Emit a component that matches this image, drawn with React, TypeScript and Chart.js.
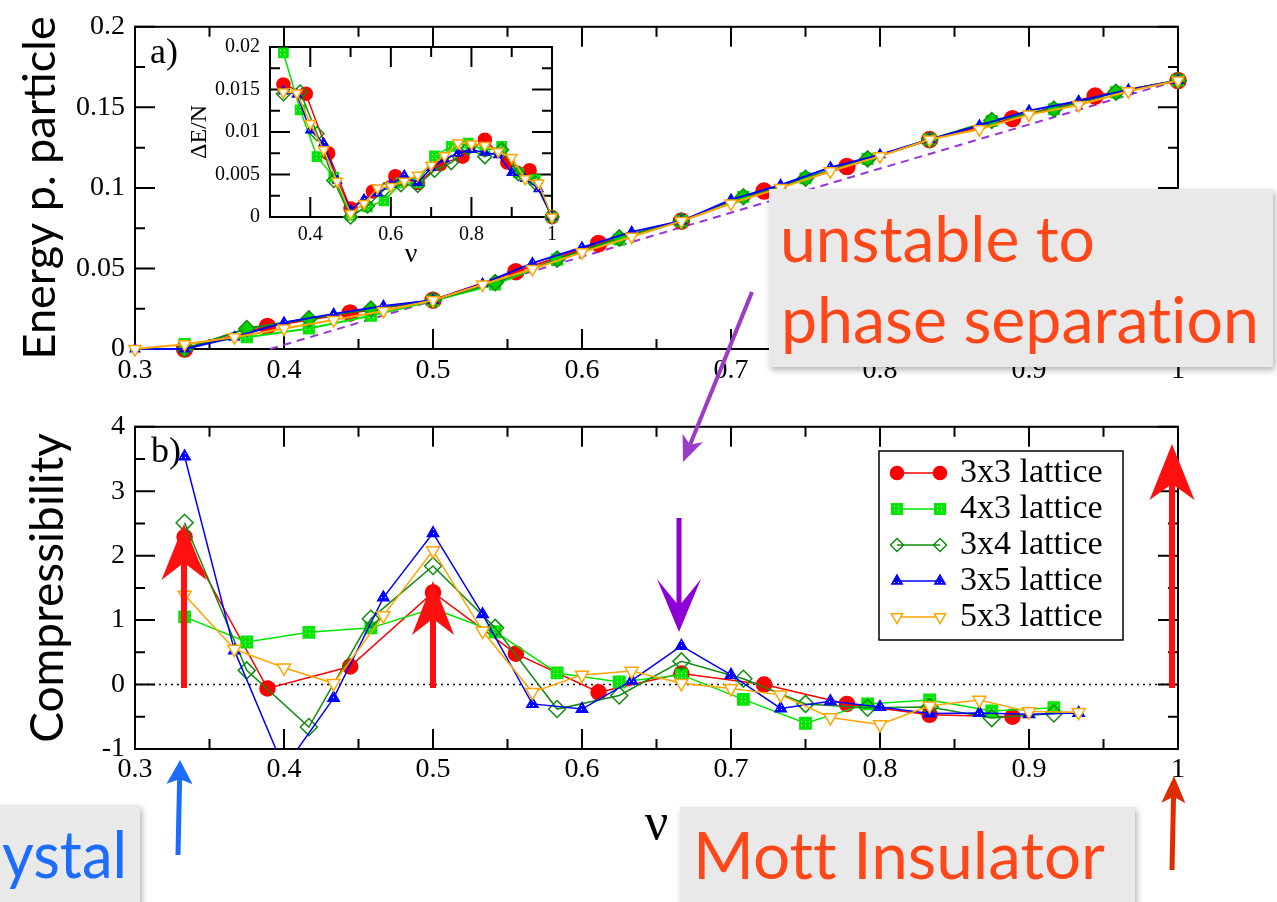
import React, { useEffect, useRef } from 'react';
import { Chart, registerables } from 'chart.js';

Chart.register(...registerables);

// ---------- data ----------
// filling fractions (x values) per lattice
const NU_3x3 = [0.3333, 0.3889, 0.4444, 0.5, 0.5556, 0.6111, 0.6667, 0.7222, 0.7778, 0.8333, 0.8889, 0.9444, 1.0];
const NU_12 = [0.3333, 0.375, 0.4167, 0.4583, 0.5, 0.5417, 0.5833, 0.625, 0.6667, 0.7083, 0.75, 0.7917, 0.8333, 0.875, 0.9167, 0.9583, 1.0];
const NU_15 = [0.3, 0.3333, 0.3667, 0.4, 0.4333, 0.4667, 0.5, 0.5333, 0.5667, 0.6, 0.6333, 0.6667, 0.7, 0.7333, 0.7667, 0.8, 0.8333, 0.8667, 0.9, 0.9333, 0.9667, 1.0];
const NU_15_INSET = [0.3333, 0.3667, 0.4, 0.4333, 0.4667, 0.5, 0.5333, 0.5667, 0.6, 0.6333, 0.6667, 0.7, 0.7333, 0.7667, 0.8, 0.8333, 0.8667, 0.9, 0.9333, 0.9667, 1.0];
const NU_K_3x3 = [0.3333, 0.3889, 0.4444, 0.5, 0.5556, 0.6111, 0.6667, 0.7222, 0.7778, 0.8333, 0.8889];
const NU_K_12 = [0.3333, 0.375, 0.4167, 0.4583, 0.5, 0.5417, 0.5833, 0.625, 0.6667, 0.7083, 0.75, 0.7917, 0.8333, 0.875, 0.9167];
const NU_K_15 = [0.3333, 0.3667, 0.4, 0.4333, 0.4667, 0.5, 0.5333, 0.5667, 0.6, 0.6333, 0.6667, 0.7, 0.7333, 0.7667, 0.8, 0.8333, 0.8667, 0.9, 0.9333];

// a) energy per particle
const E_3x3 = [0, 0.014, 0.0224, 0.0303, 0.048, 0.0655, 0.0794, 0.098, 0.1133, 0.13, 0.143, 0.157, 0.1667];
const E_4x3 = [0.003, 0.0073, 0.0127, 0.0206, 0.03, 0.04, 0.0555, 0.068, 0.0794, 0.0945, 0.106, 0.118, 0.13, 0.1415, 0.1488, 0.1594, 0.1667];
const E_3x4 = [0, 0.0127, 0.0188, 0.0248, 0.0303, 0.0412, 0.0558, 0.069, 0.0794, 0.0945, 0.106, 0.118, 0.1297, 0.1418, 0.149, 0.1594, 0.1667];
const E_3x5 = [0, 0, 0.0073, 0.0164, 0.0218, 0.0267, 0.0303, 0.0405, 0.0533, 0.063, 0.0727, 0.0794, 0.0927, 0.1018, 0.1127, 0.1206, 0.13, 0.1388, 0.1479, 0.154, 0.161, 0.1667];
const E_5x3 = [0, 0.003, 0.0073, 0.0127, 0.018, 0.0236, 0.0303, 0.04, 0.0497, 0.06, 0.0697, 0.0794, 0.0903, 0.1, 0.1103, 0.1197, 0.13, 0.1364, 0.1455, 0.1515, 0.16, 0.1667];
// Maxwell construction line (dashed)
const MAXWELL_X = [0.3906, 1.0];
const MAXWELL_Y = [0, 0.1667];

// inset: Delta E / N
const D_3x3 = [0.0156, 0.0145, 0.0075, 0.001, 0.003, 0.0048, 0.004, 0.0062, 0.0071, 0.0091, 0.0064, 0.0055, 0];
const D_4x3 = [0.0193, 0.0126, 0.0071, 0.0047, 0.0002, 0.0012, 0.0019, 0.004, 0.004, 0.0072, 0.0083, 0.0087, 0.0078, 0.0083, 0.0052, 0.0044, 0];
const D_3x4 = [0.0145, 0.0147, 0.0098, 0.0043, 0, 0.0013, 0.0032, 0.0038, 0.0037, 0.0055, 0.0064, 0.0081, 0.0071, 0.0079, 0.0051, 0.004, 0];
const D_3x5 = [0.0148, 0.0144, 0.0102, 0.0087, 0.0043, 0.0008, 0.0021, 0.0028, 0.0038, 0.0049, 0.004, 0.0058, 0.0068, 0.0075, 0.0079, 0.0076, 0.0073, 0.0052, 0.0045, 0.0033, 0];
const D_5x3 = [0.0147, 0.0146, 0.011, 0.0079, 0.0042, 0.0004, 0.0016, 0.0034, 0.0036, 0.0042, 0.0049, 0.0061, 0.0072, 0.0087, 0.0086, 0.0084, 0.0077, 0.007, 0.0045, 0.004, 0];

// b) compressibility
const K_3x3 = [2.29, -0.06, 0.28, 1.43, 0.48, -0.12, 0.17, 0.0, -0.3, -0.47, -0.5];
const K_4x3 = [1.05, 0.66, 0.81, 0.88, 1.18, 0.82, 0.18, 0.04, 0.15, -0.23, -0.6, -0.3, -0.24, -0.41, -0.36];
const K_3x4 = [2.51, 0.22, -0.66, 1.02, 1.84, 0.88, -0.38, -0.17, 0.36, 0.09, -0.3, -0.36, -0.35, -0.52, -0.45];
const K_3x5 = [3.54, 0.53, -1.3, -0.21, 1.35, 2.35, 1.09, -0.3, -0.38, 0.06, 0.6, 0.15, -0.37, -0.26, -0.35, -0.45, -0.44, -0.46, -0.44];
const K_5x3 = [1.39, 0.55, 0.26, 0.02, 1.07, 2.08, 0.83, -0.12, 0.15, 0.21, 0.02, -0.06, -0.16, -0.51, -0.62, -0.33, -0.24, -0.42, -0.43];
const ZERO_X = [0.3, 1.0];
const ZERO_Y = [0, 0];

const SERIES_LABELS = ['3x3 lattice', '4x3 lattice', '3x4 lattice', '3x5 lattice', '5x3 lattice'];

// ---------- styles ----------
const SERIF = "'Liberation Serif', 'DejaVu Serif', serif";
const SANS = "Lato, 'Open Sans', sans-serif";
const STYLES = [
  { color: '#ff0000', shape: 'circle', rot: 0, fill: 'solid', order: 5 },
  { color: '#00e600', shape: 'rect', rot: 0, fill: 'dots', order: 4 },
  { color: '#118c11', shape: 'rectRot', rot: 0, fill: 'none', order: 3 },
  { color: '#0000ff', shape: 'triangle', rot: 0, fill: 'dots', order: 2 },
  { color: '#ffa500', shape: 'triangle', rot: 180, fill: 'white', order: 1 },
];

// tick mark layout per panel (major / minor spacing, lengths in px)
const FRAME_TOP = { lw: 2, majorLen: 20, minorLen: 10, xMajor: 0.1, xMinor: 0.05, yMajor: 0.05, yMinor: 0.025 };
const FRAME_BOT = { lw: 2, majorLen: 20, minorLen: 10, xMajor: 0.1, xMinor: 0.05, yMajor: 1, yMinor: 0.5 };
const FRAME_INS = { lw: 2, majorLen: 20, minorLen: 10, xMajor: 0.2, xMinor: 0.1, yMajor: 0.005, yMinor: 0.0025 };

const fmt = (v: number) => String(Math.round(v * 10000) / 10000);

function drawMarker(ctx: any, shape: string, x: number, y: number, r: number, rot: number, fill: any, stroke: string, bw: number) {
  ctx.save();
  ctx.translate(x, y);
  ctx.rotate((rot * Math.PI) / 180);
  ctx.beginPath();
  if (shape === 'circle') ctx.arc(0, 0, r, 0, Math.PI * 2);
  else if (shape === 'rect') {
    const s = r * Math.SQRT1_2;
    ctx.rect(-s, -s, 2 * s, 2 * s);
  } else if (shape === 'rectRot') {
    ctx.moveTo(0, -r); ctx.lineTo(r, 0); ctx.lineTo(0, r); ctx.lineTo(-r, 0); ctx.closePath();
  } else {
    for (let k = 0; k < 3; k++) {
      const a = -Math.PI / 2 + (k * 2 * Math.PI) / 3;
      if (k === 0) ctx.moveTo(r * Math.cos(a), r * Math.sin(a));
      else ctx.lineTo(r * Math.cos(a), r * Math.sin(a));
    }
    ctx.closePath();
  }
  if (fill) { ctx.fillStyle = fill; ctx.fill(); }
  ctx.lineWidth = bw; ctx.strokeStyle = stroke; ctx.stroke();
  ctx.restore();
}

function gridValues(min: number, max: number, step: number) {
  const n = Math.round((max - min) / step);
  const out: number[] = [];
  for (let i = 0; i <= n; i++) out.push(min + i * step);
  return out;
}
const onMajor = (v: number, m: number) => Math.abs(v / m - Math.round(v / m)) < 1e-6;

// frame + inward ticks on all four sides, optional panel tag and background
function makeFramePlugin(f: any, extra: any) {
  return {
    id: 'frame',
    beforeDraw(chart: any) {
      if (!extra.bg) return;
      const { ctx, chartArea: ca } = chart;
      ctx.save();
      ctx.fillStyle = extra.bg;
      ctx.fillRect(ca.left, ca.top, ca.right - ca.left, ca.bottom - ca.top);
      ctx.restore();
    },
    beforeDatasetsDraw(chart: any) {
      const { ctx, chartArea: ca } = chart;
      const xs = chart.scales.x, ys = chart.scales.y;
      ctx.save();
      ctx.strokeStyle = '#000000';
      ctx.lineWidth = f.lw;
      ctx.setLineDash([]);
      ctx.beginPath();
      gridValues(xs.min, xs.max, f.xMinor).forEach((v) => {
        const len = onMajor(v, f.xMajor) ? f.majorLen : f.minorLen;
        const px = xs.getPixelForValue(v);
        ctx.moveTo(px, ca.bottom); ctx.lineTo(px, ca.bottom - len);
        ctx.moveTo(px, ca.top); ctx.lineTo(px, ca.top + len);
      });
      gridValues(ys.min, ys.max, f.yMinor).forEach((v) => {
        const len = onMajor(v, f.yMajor) ? f.majorLen : f.minorLen;
        const py = ys.getPixelForValue(v);
        ctx.moveTo(ca.left, py); ctx.lineTo(ca.left + len, py);
        ctx.moveTo(ca.right, py); ctx.lineTo(ca.right - len, py);
      });
      ctx.stroke();
      ctx.strokeRect(ca.left, ca.top, ca.right - ca.left, ca.bottom - ca.top);
      if (extra.tag) {
        ctx.fillStyle = '#000';
        ctx.font = extra.tagFont;
        ctx.textBaseline = 'alphabetic';
        ctx.textAlign = 'left';
        ctx.fillText(extra.tag, ca.left + extra.tagDx, ca.top + extra.tagDy);
      }
      ctx.restore();
    },
  };
}

function makeLegendPlugin(o: any) {
  return {
    id: 'boxLegend',
    afterDatasetsDraw(chart: any) {
      const ctx = chart.ctx;
      ctx.save();
      ctx.fillStyle = '#fff';
      ctx.fillRect(o.x, o.y, o.w, o.h);
      ctx.strokeStyle = '#000';
      ctx.lineWidth = 1.5;
      ctx.strokeRect(o.x, o.y, o.w, o.h);
      const items = chart.data.datasets.filter((d: any) => d.label);
      items.forEach((d: any, i: number) => {
        const cy = o.y + o.firstRow + i * o.rowGap;
        ctx.strokeStyle = d.borderColor;
        ctx.lineWidth = d.borderWidth;
        ctx.beginPath(); ctx.moveTo(o.lineX0, cy); ctx.lineTo(o.lineX1, cy); ctx.stroke();
        const bg = d.pointBackgroundColor === 'rgba(0,0,0,0)' ? null : d.pointBackgroundColor;
        [o.lineX0, o.lineX1].forEach((mx) => {
          drawMarker(ctx, d.pointStyle, mx, cy, o.radii[i], d.pointRotation, bg, d.pointBorderColor, d.pointBorderWidth);
        });
        ctx.fillStyle = '#000';
        ctx.font = o.font;
        ctx.textBaseline = 'middle';
        ctx.textAlign = 'left';
        ctx.fillText(d.label, o.textX, cy);
      });
      ctx.restore();
    },
  };
}

function makePatterns(ctx: any) {
  return STYLES.map((s) => {
    const c = document.createElement('canvas');
    c.width = 4; c.height = 4;
    const g = c.getContext('2d') as any;
    g.fillStyle = s.color; g.fillRect(0, 0, 4, 4);
    g.fillStyle = '#ffffff'; g.fillRect(1, 1, 1, 1);
    return ctx.createPattern(c, 'repeat');
  });
}

function series(i: number, xs: number[], ys: number[], radius: number, lw: number, pats: any[], clip: any, fillOverride?: any) {
  const s = STYLES[i];
  let bg: any = s.color;
  if (s.fill === 'dots') bg = pats[i];
  else if (s.fill === 'none') bg = 'rgba(0,0,0,0)';
  else if (s.fill === 'white') bg = '#ffffff';
  if (fillOverride !== undefined) bg = fillOverride;
  return {
    label: SERIES_LABELS[i],
    data: xs.map((x, k) => ({ x, y: ys[k] })),
    borderColor: s.color,
    backgroundColor: s.color,
    borderWidth: lw,
    pointStyle: s.shape,
    pointRotation: s.rot,
    pointRadius: radius,
    pointBackgroundColor: bg,
    pointBorderColor: s.color,
    pointBorderWidth: 1.5,
    order: s.order,
    tension: 0,
    clip,
  };
}

function axisX(min: number, max: number, step: number, size: number, pad: number, height: number, extra: any = {}) {
  return {
    type: 'linear', min, max,
    grid: { display: false, drawTicks: false },
    border: { display: false },
    ticks: {
      stepSize: step, autoSkip: false, maxRotation: 0, padding: pad, color: '#000',
      includeBounds: false,
      font: { family: SERIF, size },
      callback: (v: number) => fmt(v),
    },
    afterFit: (s: any) => { s.height = height; },
    ...extra,
  };
}

function axisY(min: number, max: number, step: number, size: number, pad: number, width: number, extra: any = {}) {
  return {
    type: 'linear', min, max,
    grid: { display: false, drawTicks: false },
    border: { display: false },
    ticks: {
      stepSize: step, autoSkip: false, padding: pad, color: '#000',
      font: { family: SERIF, size },
      callback: (v: number) => fmt(v),
    },
    afterFit: (s: any) => { s.width = width; },
    ...extra,
  };
}

const COMMON = {
  responsive: false,
  animation: false,
  events: [],
  plugins: { legend: { display: false }, tooltip: { enabled: false } },
};

function arrowPoints(tail: number[], tip: number[], sw: number, hl: number, hw: number, notch: number) {
  const dx = tip[0] - tail[0], dy = tip[1] - tail[1];
  const L = Math.hypot(dx, dy);
  const ux = dx / L, uy = dy / L;
  const nx = -uy, ny = ux;
  const B = [tip[0] - ux * hl, tip[1] - uy * hl];
  const N = [tip[0] - ux * (hl - notch), tip[1] - uy * (hl - notch)];
  const pts = [
    [tail[0] + nx * sw / 2, tail[1] + ny * sw / 2],
    [N[0] + nx * sw / 2, N[1] + ny * sw / 2],
    [B[0] + nx * hw / 2, B[1] + ny * hw / 2],
    tip,
    [B[0] - nx * hw / 2, B[1] - ny * hw / 2],
    [N[0] - nx * sw / 2, N[1] - ny * sw / 2],
    [tail[0] - nx * sw / 2, tail[1] - ny * sw / 2],
  ];
  return pts.map((p) => p[0].toFixed(1) + ',' + p[1].toFixed(1)).join(' ');
}

const ARROWS = [
  { tail: [184, 688], tip: [184, 524], sw: 6, hl: 56, hw: 45, notch: 15, color: '#ff1010' },
  { tail: [433, 688], tip: [433, 581], sw: 6, hl: 54, hw: 42, notch: 14, color: '#ff1010' },
  { tail: [1172, 688], tip: [1172, 444], sw: 6, hl: 56, hw: 45, notch: 14, color: '#ff1010' },
  { tail: [679, 518], tip: [679, 632], sw: 5, hl: 53, hw: 44, notch: 24, color: '#8c00d7' },
  { tail: [752, 292], tip: [683, 462], sw: 4, hl: 26, hw: 22, notch: 6, color: '#9a3cc8' },
  { tail: [178, 855], tip: [180, 760], sw: 5, hl: 24, hw: 26, notch: 4, color: '#1b6cff' },
  { tail: [1172, 870], tip: [1174, 776], sw: 5, hl: 27, hw: 24, notch: 5, color: '#e02a00' },
];

export default function App() {
  const topRef = useRef<HTMLCanvasElement>(null);
  const botRef = useRef<HTMLCanvasElement>(null);
  const insRef = useRef<HTMLCanvasElement>(null);

  useEffect(() => {
    const charts: any[] = [];
    const pTop = makePatterns(topRef.current!.getContext('2d'));
    const pBot = makePatterns(botRef.current!.getContext('2d'));
    const pIns = makePatterns(insRef.current!.getContext('2d'));

    // ---- top panel a)
    const rTop = [8, 7.5, 8, 5.5, 7];
    charts.push(new Chart(topRef.current as any, {
      type: 'line',
      data: {
        datasets: [
          series(0, NU_3x3, E_3x3, rTop[0], 2, pTop, false),
          series(1, NU_12, E_4x3, rTop[1], 2, pTop, false),
          series(2, NU_12, E_3x4, rTop[2], 2, pTop, false, '#00d000'),
          series(3, NU_15, E_3x5, rTop[3], 2, pTop, false),
          series(4, NU_15, E_5x3, rTop[4], 2, pTop, false),
          {
            label: '', data: MAXWELL_X.map((x, k) => ({ x, y: MAXWELL_Y[k] })),
            borderColor: '#9933dd', borderWidth: 2, borderDash: [8, 6], pointRadius: 0, order: 10, clip: false,
          },
        ],
      } as any,
      options: {
        ...COMMON,
        layout: { padding: { top: 19, right: 99, bottom: 0, left: 0 } },
        scales: {
          x: axisX(0.3, 1, 0.1, 28, 5, 51),
          y: axisY(0, 0.2, 0.05, 28, 10, 135, {
            title: { display: true, text: 'Energy p. particle', color: '#000', font: { family: SANS, size: 45 }, padding: { top: 13, bottom: 0 } },
          }),
        },
      } as any,
      plugins: [makeFramePlugin(FRAME_TOP, { tag: 'a)', tagFont: `36px ${SERIF}`, tagDx: 15, tagDy: 36 }) as any],
    }));

    // ---- bottom panel b)
    const rBot = [7.5, 8, 8.5, 6.5, 7.5];
    charts.push(new Chart(botRef.current as any, {
      type: 'line',
      data: {
        datasets: [
          series(0, NU_K_3x3, K_3x3, rBot[0], 1.5, pBot, undefined),
          series(1, NU_K_12, K_4x3, rBot[1], 1.5, pBot, undefined),
          series(2, NU_K_12, K_3x4, rBot[2], 1.5, pBot, undefined),
          series(3, NU_K_15, K_3x5, rBot[3], 1.5, pBot, undefined),
          series(4, NU_K_15, K_5x3, rBot[4], 1.5, pBot, undefined),
          {
            label: '', data: ZERO_X.map((x, k) => ({ x, y: ZERO_Y[k] })),
            borderColor: '#000', borderWidth: 1.5, borderDash: [2, 4], pointRadius: 0, order: 10,
          },
        ],
      } as any,
      options: {
        ...COMMON,
        layout: { padding: { top: 17, right: 99, bottom: 0, left: 0 } },
        scales: {
          x: axisX(0.3, 1, 0.1, 28, 4, 153, {
            title: { display: true, text: 'ν', color: '#000', font: { family: SERIF, size: 52 }, padding: { top: 0, bottom: 45 } },
          }),
          y: axisY(-1, 4, 1, 28, 10, 135, {
            title: { display: true, text: 'Compressibility', color: '#000', font: { family: SANS, size: 46 }, padding: { top: 21, bottom: 0 } },
          }),
        },
      } as any,
      plugins: [
        makeFramePlugin(FRAME_BOT, { tag: 'b)', tagFont: `36px ${SERIF}`, tagDx: 16, tagDy: 35 }) as any,
        makeLegendPlugin({ x: 879, y: 51, w: 244, h: 189, firstRow: 22, rowGap: 36, lineX0: 897, lineX1: 940, textX: 960, font: `34px ${SERIF}`, radii: [6.5, 7.5, 6.5, 6, 6.5] }) as any,
      ],
    }));

    // ---- inset
    const rIns = [6.5, 6.5, 7, 5, 6];
    charts.push(new Chart(insRef.current as any, {
      type: 'line',
      data: {
        datasets: [
          series(0, NU_3x3, D_3x3, rIns[0], 1.5, pIns, false),
          series(1, NU_12, D_4x3, rIns[1], 1.5, pIns, false),
          series(2, NU_12, D_3x4, rIns[2], 1.5, pIns, false),
          series(3, NU_15_INSET, D_3x5, rIns[3], 1.5, pIns, false),
          series(4, NU_15_INSET, D_5x3, rIns[4], 1.5, pIns, false),
        ],
      } as any,
      options: {
        ...COMMON,
        layout: { padding: { top: 14, right: 13, bottom: 0, left: 0 } },
        scales: {
          x: axisX(0.3, 1, 0.2, 20, 6, 63, {
            title: { display: true, text: 'ν', color: '#000', font: { family: SERIF, size: 28 }, padding: { top: 0, bottom: 9 } },
          }),
          y: axisY(0, 0.02, 0.005, 20, 10, 95, {
            title: { display: true, text: 'ΔE/N', color: '#000', font: { family: SERIF, size: 24 }, padding: { top: 10, bottom: 0 } },
          }),
        },
      } as any,
      plugins: [makeFramePlugin(FRAME_INS, { bg: '#ffffff' }) as any],
    }));

    return () => charts.forEach((c) => c.destroy());
  }, []);

  const boxFill = '#e9e9e9';
  const orangeRed = '#ff4719';
  const txt = { fontVariantLigatures: 'none' as const };
  return (
    <div style={{ position: 'absolute', left: 0, top: 0, width: 1277, height: 902, overflow: 'hidden', background: '#fff' }}>
      <canvas ref={topRef} width={1277} height={400} style={{ position: 'absolute', left: 0, top: 0 }} />
      <canvas ref={botRef} width={1277} height={502} style={{ position: 'absolute', left: 0, top: 400 }} />
      <canvas ref={insRef} width={390} height={255} style={{ position: 'absolute', left: 175, top: 25 }} />
      <svg width={1277} height={902} style={{ position: 'absolute', left: 0, top: 0, pointerEvents: 'none' }}>
        <defs>
          <filter id="sh" x="-10%" y="-10%" width="125%" height="140%">
            <feDropShadow dx="2" dy="3" stdDeviation="3" floodColor="#000" floodOpacity="0.3" />
          </filter>
        </defs>
        {ARROWS.map((a, i) => (
          <polygon key={i} points={arrowPoints(a.tail, a.tip, a.sw, a.hl, a.hw, a.notch)} fill={a.color} />
        ))}
        <rect x={769} y={189} width={504} height={178} fill={boxFill} filter="url(#sh)" />
        <text x={780} y={262} style={txt} fontFamily={SANS} fontSize={64} fill={orangeRed} textLength={315} lengthAdjust="spacingAndGlyphs">unstable to</text>
        <text x={781} y={343} style={txt} fontFamily={SANS} fontSize={64} fill={orangeRed} textLength={478} lengthAdjust="spacingAndGlyphs">phase separation</text>
        <rect x={680} y={807} width={455} height={120} fill={boxFill} filter="url(#sh)" />
        <text x={693} y={879} style={txt} fontFamily={SANS} fontSize={66} fill={orangeRed} textLength={412} lengthAdjust="spacingAndGlyphs">Mott Insulator</text>
        <rect x={-20} y={805} width={160} height={120} fill={boxFill} filter="url(#sh)" />
        <text x={2} y={878} style={txt} fontFamily={SANS} fontSize={66} fill="#1b6cff" textLength={125} lengthAdjust="spacingAndGlyphs">ystal</text>
      </svg>
    </div>
  );
}
